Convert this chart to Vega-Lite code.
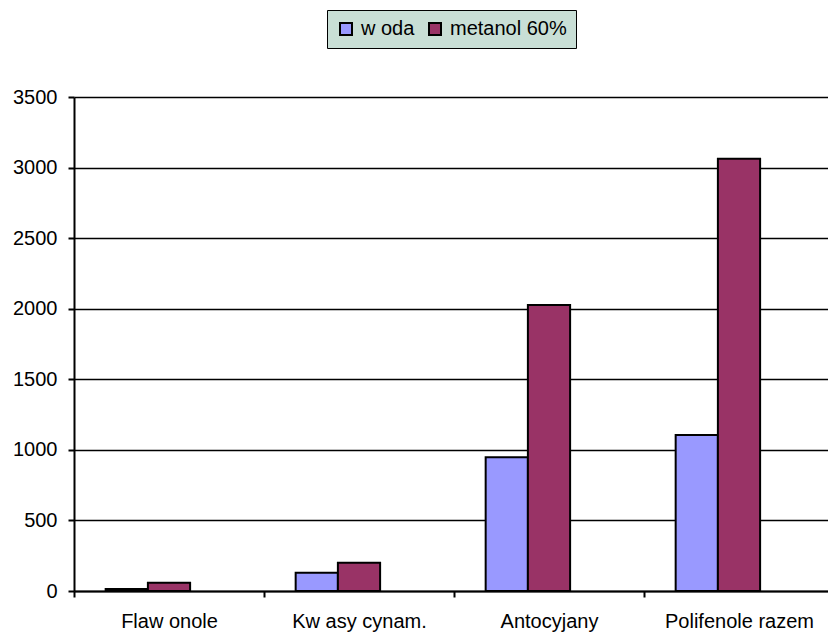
{
  "$schema": "https://vega.github.io/schema/vega-lite/v6.json",
  "autosize": {"type": "none"},
  "width": 754,
  "height": 494,
  "padding": {"left": 74, "top": 97, "right": 0, "bottom": 43},
  "background": "white",
  "config": {
    "font": "Liberation Sans",
    "view": {"stroke": null}
  },
  "data": {
    "values": [
      {"kategoria": "Flaw onole", "seria": "w oda", "wartosc": 15},
      {"kategoria": "Flaw onole", "seria": "metanol 60%", "wartosc": 59},
      {"kategoria": "Kw asy cynam.", "seria": "w oda", "wartosc": 130},
      {"kategoria": "Kw asy cynam.", "seria": "metanol 60%", "wartosc": 200},
      {"kategoria": "Antocyjany", "seria": "w oda", "wartosc": 947},
      {"kategoria": "Antocyjany", "seria": "metanol 60%", "wartosc": 2027},
      {"kategoria": "Polifenole razem", "seria": "w oda", "wartosc": 1105},
      {"kategoria": "Polifenole razem", "seria": "metanol 60%", "wartosc": 3062}
    ]
  },
  "mark": {"type": "bar", "stroke": "black", "strokeWidth": 2},
  "encoding": {
    "x": {
      "field": "kategoria",
      "type": "nominal",
      "sort": ["Flaw onole", "Kw asy cynam.", "Antocyjany", "Polifenole razem"],
      "scale": {"range": [0, 760], "paddingInner": 0, "paddingOuter": 0},
      "axis": {
        "title": null,
        "labelAngle": 0,
        "labelFontSize": 20,
        "labelColor": "black",
        "labelPadding": 14,
        "tickBand": "extent",
        "tickSize": 6,
        "tickColor": "black",
        "tickWidth": 2,
        "domainColor": "black",
        "domainWidth": 2,
        "grid": false
      }
    },
    "xOffset": {
      "field": "seria",
      "type": "nominal",
      "scale": {"domain": ["w oda", "metanol 60%", "_"], "paddingInner": 0, "paddingOuter": 0.75}
    },
    "y": {
      "field": "wartosc",
      "type": "quantitative",
      "scale": {"domain": [0, 3500], "nice": false},
      "axis": {
        "title": null,
        "values": [0, 500, 1000, 1500, 2000, 2500, 3000, 3500],
        "format": "d",
        "labelFontSize": 20,
        "labelColor": "black",
        "labelPadding": 11,
        "tickSize": 6,
        "tickColor": "black",
        "tickWidth": 2,
        "domainColor": "black",
        "domainWidth": 2,
        "grid": true,
        "gridColor": "black",
        "gridWidth": 1.5,
        "gridOpacity": 1
      }
    },
    "color": {
      "field": "seria",
      "type": "nominal",
      "scale": {"domain": ["w oda", "metanol 60%", "_"], "range": ["#9999FF", "#993366", "#FFFFC0"]},
      "legend": {
        "title": null,
        "values": ["w oda", "metanol 60%"],
        "orient": "none",
        "legendX": 253,
        "legendY": -87,
        "direction": "horizontal",
        "fillColor": "#C9DFD6",
        "strokeColor": "black",
        "padding": 9,
        "symbolType": "square",
        "symbolSize": 144,
        "symbolStrokeColor": "black",
        "symbolStrokeWidth": 2,
        "symbolOpacity": 1,
        "labelFontSize": 20,
        "labelColor": "black",
        "labelOffset": 5,
        "columnPadding": 10
      }
    }
  }
}
